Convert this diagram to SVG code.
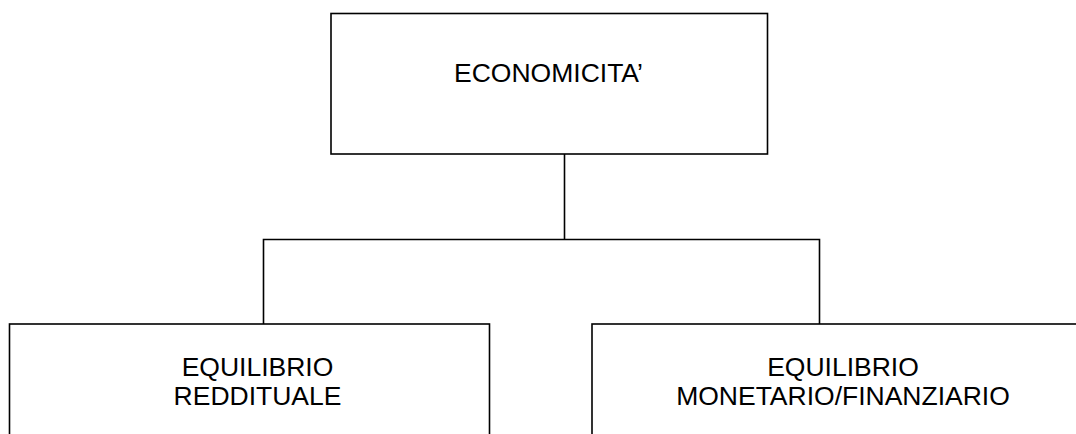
<svg xmlns="http://www.w3.org/2000/svg" width="1076" height="434" viewBox="0 0 1076 434">
  <style>
    .box { fill: #ffffff; stroke: #000000; stroke-width: 1.6; }
    .wire { fill: none; stroke: #000000; stroke-width: 1.6; }
    .label { font-family: "Liberation Sans", Arial, sans-serif; font-size: 26.5px; fill: #000000; text-anchor: middle; }
  </style>
  <rect width="1076" height="434" fill="#ffffff"/>

  <!-- tree connectors -->
  <g id="connectors">
    <path class="wire" d="M564.5 154 V239.5"/>
    <path class="wire" d="M263.5 324 V239.5 H819.5 V324"/>
  </g>

  <g id="economicita">
    <rect class="box" x="331" y="13.5" width="436.5" height="140.5"/>
    <text class="label" x="548.5" y="81.5">ECONOMICITA’</text>
  </g>

  <g id="equilibrio-reddituale">
    <rect class="box" x="9.5" y="324" width="480" height="130"/>
    <text class="label" x="257.5" y="376">EQUILIBRIO</text>
    <text class="label" x="257.5" y="405">REDDITUALE</text>
  </g>

  <g id="equilibrio-monetario">
    <rect class="box" x="592" y="324" width="520" height="130"/>
    <text class="label" x="843" y="376">EQUILIBRIO</text>
    <text class="label" x="843" y="405">MONETARIO/FINANZIARIO</text>
  </g>
</svg>
